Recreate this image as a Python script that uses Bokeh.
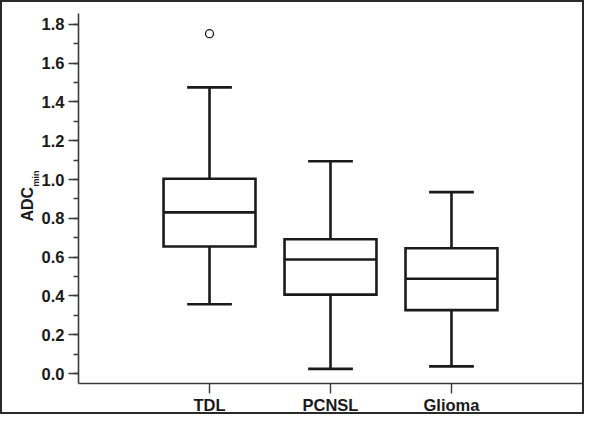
from bokeh.plotting import figure
from bokeh.models import Range1d, FixedTicker, SingleIntervalTicker, Title
from bokeh.embed import file_html
from bokeh.resources import INLINE

# ---- data ----
categories = ["TDL", "PCNSL", "Glioma"]
positions = [1, 2, 3]
whisker_low = [0.357, 0.024, 0.037]
q1 = [0.655, 0.407, 0.327]
median = [0.831, 0.588, 0.489]
q3 = [1.004, 0.692, 0.646]
whisker_high = [1.475, 1.094, 0.935]
outlier_pos = [1]
outlier_val = [1.752]
y_ticks = [0.0, 0.2, 0.4, 0.6, 0.8, 1.0, 1.2, 1.4, 1.6, 1.8]

# ---- style ----
BOX_W = 0.76
CAP_W = 0.37
LINE = "#1a1a1a"
FONT = "Liberation Sans"

W, H = 584, 414
p = figure(width=W, height=H, output_backend="svg", toolbar_location=None,
           x_range=Range1d(-0.083, 4.083), y_range=Range1d(-0.0513, 1.856),
           min_border_left=76, min_border_right=4, min_border_top=11, min_border_bottom=31)
p.styles = {"border": "2px solid #2a2a2a"}
p.outline_line_color = None
p.xgrid.visible = False
p.ygrid.visible = False
p.background_fill_color = "white"
p.border_fill_color = "white"

left = [x - BOX_W / 2 for x in positions]
right = [x + BOX_W / 2 for x in positions]
cap_l = [x - CAP_W / 2 for x in positions]
cap_r = [x + CAP_W / 2 for x in positions]

# whiskers
p.segment(positions, q3, positions, whisker_high, line_color=LINE, line_width=2.6)
p.segment(positions, q1, positions, whisker_low, line_color=LINE, line_width=2.6)
p.segment(cap_l, whisker_high, cap_r, whisker_high, line_color=LINE, line_width=2.6)
p.segment(cap_l, whisker_low, cap_r, whisker_low, line_color=LINE, line_width=2.6)
# boxes
p.quad(left=left, right=right, bottom=q1, top=q3, fill_color="white",
       line_color=LINE, line_width=2.6, line_join="miter")
p.segment(left, median, right, median, line_color=LINE, line_width=2.6)
# outlier
p.scatter(outlier_pos, outlier_val, marker="circle", size=8, fill_color="white",
          line_color=LINE, line_width=1.3)

# axes
xa = p.xaxis[0]
xa.ticker = FixedTicker(ticks=positions)
xa.major_label_overrides = {pos: c for pos, c in zip(positions, categories)}
xa.major_tick_out = 10
xa.major_tick_in = 0
xa.major_label_standoff = 2
ya = p.yaxis[0]
ya.ticker = SingleIntervalTicker(interval=0.2, num_minor_ticks=2)
ya.major_label_overrides = {t: f"{t:.1f}" for t in y_ticks}
ya.major_tick_out = 10
ya.major_tick_in = 0
ya.minor_tick_out = 5
ya.minor_tick_in = 0
ya.major_label_standoff = 4
for ax in (xa, ya):
    ax.axis_line_color = "#3a3a3a"
    ax.axis_line_width = 1.6
    ax.major_tick_line_color = "#3a3a3a"
    ax.major_tick_line_width = 1.4
    ax.minor_tick_line_color = "#3a3a3a" if ax is ya else None
    ax.minor_tick_line_width = 1.4
    ax.major_label_text_font = FONT
    ax.major_label_text_font_style = "bold"
    ax.major_label_text_font_size = "16.5px"
    ax.major_label_text_color = "#1a1a1a"

# y axis title "ADC" with subscript "min", as side titles (inner first)
p.add_layout(Title(text="min", align="left", offset=197, standoff=-4,
                   text_font=FONT, text_font_style="bold", text_font_size="9px",
                   text_color="#1a1a1a"), "left")
p.add_layout(Title(text="ADC", align="left", offset=162, standoff=-10,
                   text_font=FONT, text_font_style="bold", text_font_size="16px",
                   text_color="#1a1a1a"), "left")

open("out.html", "w").write(file_html(p, INLINE))
